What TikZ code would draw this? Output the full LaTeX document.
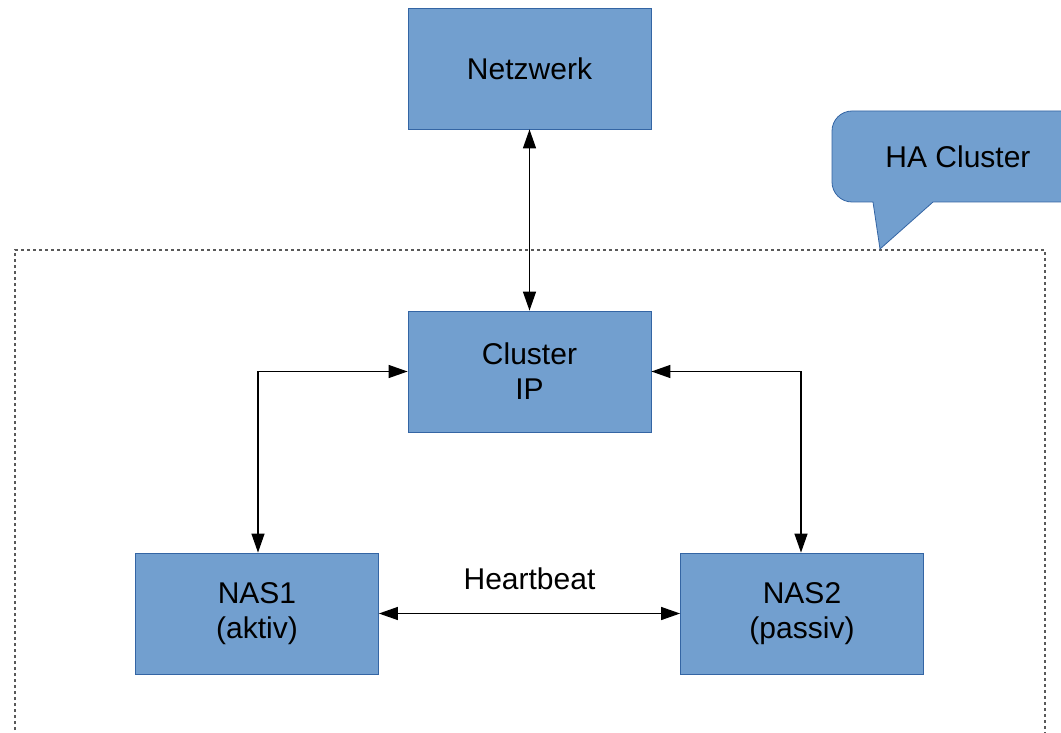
\documentclass[tikz,border=0pt]{standalone}
\usepackage{fontspec}
\setmainfont{Liberation Sans}
\usetikzlibrary{arrows.meta}
\definecolor{boxfill}{HTML}{729FCF}
\definecolor{boxline}{HTML}{3465A4}
\begin{document}
\begin{tikzpicture}[x=1pt,y=-1pt,
  label font/.style={font=\fontsize{30}{35}\selectfont},
  unit/.style={draw=boxline, line width=0.8pt, fill=boxfill, minimum width=243pt,
    minimum height=121pt, inner sep=0pt, align=center, label font},
  link/.style={line width=1.3pt, line join=miter,
    {Triangle[length=19pt,width=13pt]}-{Triangle[length=19pt,width=13pt]}},
  zone/.style={draw=black!65, line width=1.2pt, dash pattern=on 3pt off 3pt}]
\useasboundingbox (0,0) rectangle (1061,733);
\fill[white] (0,0) rectangle (1061,733);

% cluster boundary (runs off the lower edge)
\draw[zone] (15,760) -- (15,250) -- (1045,250) -- (1045,760);

% speech bubble naming the cluster
\begin{scope}
\clip (0,0) rectangle (1061,733);
\filldraw[fill=boxfill, draw=boxline, line width=0.8pt, rounded corners=20pt]
  (873,202) -- (832,202) -- (832,111) -- (1100,111) -- (1100,202)
  [sharp corners] -- (933,202) -- (880,249) -- cycle;
\end{scope}
\node[label font] (ha) at (958,157) {HA Cluster};

\node[unit] (net) at (529.5,68.5) {Netzwerk};
\node[unit] (cip) at (529.5,371.5) {Cluster\\IP};
\node[unit] (nas1) at (257,613.5) {NAS1\\(aktiv)};
\node[unit] (nas2) at (802,613.5) {NAS2\\(passiv)};

\coordinate (lk) at (258,371.5);
\coordinate (rk) at (801,371.5);

\draw[link] (net.south) -- (cip.north);
\draw[link] (cip.west) -- (lk) -- (nas1.north -| lk);
\draw[link] (cip.east) -- (rk) -- (nas2.north -| rk);
\draw[link] (nas1.east) -- (nas2.west)
  node[midway, above=20pt, label font] (hb) {Heartbeat};
\end{tikzpicture}
\end{document}
